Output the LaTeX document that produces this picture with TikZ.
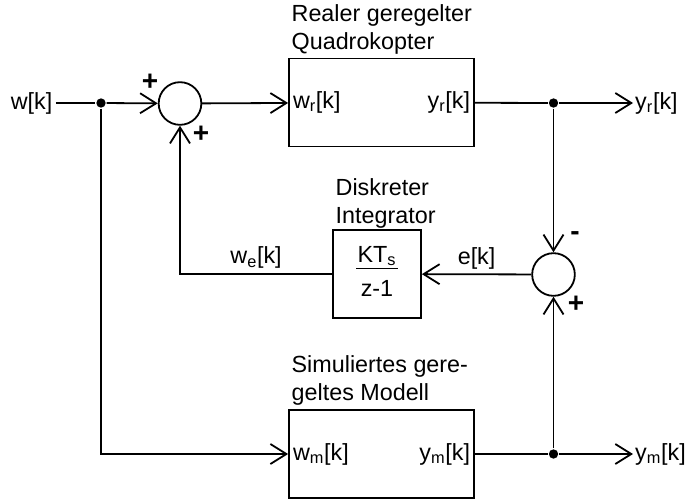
\documentclass[tikz,border=0pt]{standalone}
\usepackage{fontspec}
\setmainfont{Liberation Sans}
\usetikzlibrary{arrows.meta,positioning,calc}
\tikzset{
    block/.style={
        rectangle, draw,
        minimum width=138.75pt, minimum height=66pt
    },
    sumnode/.style={
        circle, draw, minimum size=32pt, inner sep=0pt
    },
    junction/.style={
        circle, fill, minimum size=7pt, inner sep=0pt
    },
    signlabel/.style={font=\fontsize{21}{23}\selectfont\bfseries, inner sep=0pt},
    blocktitle/.style={align=left, anchor=south west, inner xsep=2pt, inner ysep=2pt},
    port/.style={inner sep=3pt},
    arrow/.style={-{Straight Barb[length=12pt,width=15pt]}}
}

\begin{document}
\begin{tikzpicture}[x=0.75pt, y=-0.75pt, line width=1.35pt,
    font=\fontsize{17.5}{21}\selectfont]

\useasboundingbox (0,0) rectangle (688,500);

%% Summing points
\node[sumnode] (sumr) at (180,103.5) {};
\node[sumnode] (sume) at (553.5,274.5) {};

%% Blocks
\node[block] (real)  at (381.5,102.5) {};
\node[block] (model) at (381.5,454) {};
\node[block, minimum width=66pt, minimum height=66pt] (integ) at (377,274)
    {\setlength{\tabcolsep}{1pt}\begin{tabular}{c}KT\textsubscript{s}\\[-2pt]\hline\rule{0pt}{21pt}z-1\end{tabular}};

%% Block titles
\node[blocktitle] (realtitle)  at (real.north west)  {Realer geregelter\\Quadrokopter};
\node[blocktitle, inner ysep=0pt] (integtitle) at (integ.north west) {Diskreter\\Integrator};
\node[blocktitle] (modeltitle) at (model.north west) {Simuliertes gere-\\geltes Modell};

%% Ports inside the blocks
\node[port, anchor=west] (wr) at (real.west)  {w\textsubscript{r}[k]};
\node[port, anchor=east] (yr) at (real.east)  {y\textsubscript{r}[k]};
\node[port, anchor=west] (wm) at (model.west) {w\textsubscript{m}[k]};
\node[port, anchor=east] (ym) at (model.east) {y\textsubscript{m}[k]};

%% Signals in and out
\node[inner sep=2pt] (win) at (31.5,103) {w[k]};
\node[inner sep=1pt, anchor=west] (yrout) at (633,103) {y\textsubscript{r}[k]};
\node[inner sep=1pt, anchor=west] (ymout) at (633,454) {y\textsubscript{m}[k]};

%% Branch points
\node[junction] (jw) at (101,103) {};
\node[junction] (jr) at (553.5,103) {};
\node[junction] (jm) at (553.5,454) {};

%% Signs at the summing points
\node[signlabel] (pa) at (150,82)  {+};
\node[signlabel] (pb) at (201,134) {+};
\node[signlabel] (mc) at (575,236) {-};
\node[signlabel] (pd) at (576,304) {+};

%% Connectors
\draw (win) -- (jw);
\draw[arrow] (jw) -- (sumr);
\draw[arrow] (sumr) -- (real);
\draw (real) -- (jr);
\draw[arrow] (jr) -- (yrout);
\draw[arrow] (jr) -- (sume);
\draw[arrow] (sume) -- node[above]{e[k]} (integ);
\draw[arrow] (integ) -| node[pos=0.25, above]{w\textsubscript{e}[k]} (sumr);
\draw[arrow] (jw) |- (model);
\draw (model) -- (jm);
\draw[arrow] (jm) -- (ymout);
\draw[arrow] (jm) -- (sume);

\end{tikzpicture}
\end{document}
